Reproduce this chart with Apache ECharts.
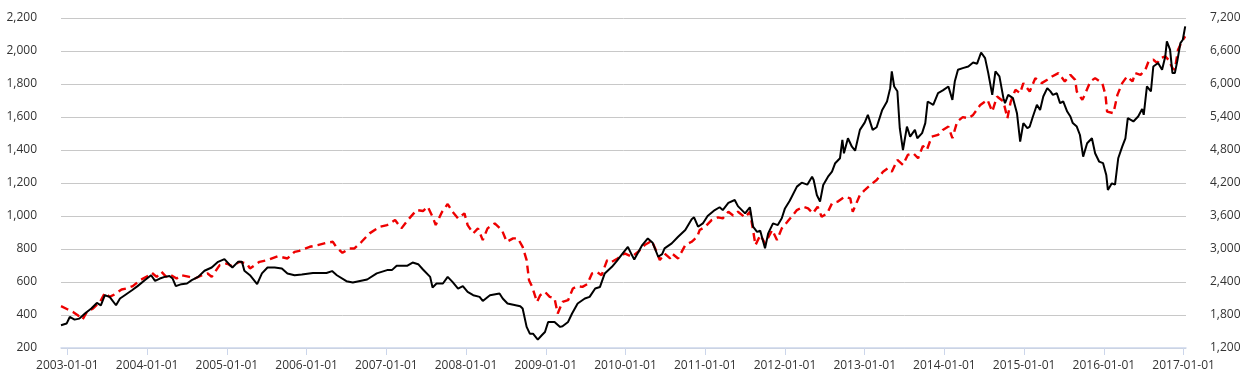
<!DOCTYPE html>
<html>
<head>
<meta charset="utf-8">
<script src="https://cdn.jsdelivr.net/npm/echarts@6/dist/echarts.min.js"></script>
<style>
  html, body { margin: 0; padding: 0; background: #fff; }
  #chart { width: 1252px; height: 383px; }
</style>
</head>
<body>
<div id="chart"></div>
<script>
// [decimal year, value]
const blackLine = [
  [2002.92, 338], [2002.99, 348], [2003.03, 388], [2003.09, 372], [2003.15, 378], [2003.22, 409], [2003.30, 439], [2003.37, 473],
  [2003.42, 459], [2003.47, 520], [2003.53, 510], [2003.61, 459], [2003.66, 500], [2003.72, 520], [2003.81, 550], [2003.88, 575], [2003.97, 611],
  [2004.05, 641], [2004.10, 607], [2004.16, 621], [2004.22, 631], [2004.28, 636], [2004.32, 621], [2004.36, 575], [2004.43, 587],
  [2004.50, 591], [2004.56, 611], [2004.64, 631], [2004.72, 668], [2004.81, 688], [2004.89, 722], [2004.97, 739],
  [2005.04, 702], [2005.07, 688], [2005.14, 722], [2005.19, 722], [2005.22, 668], [2005.29, 641], [2005.38, 587], [2005.44, 652],
  [2005.51, 688], [2005.60, 688], [2005.69, 682], [2005.76, 652], [2005.85, 641], [2005.94, 646],
  [2006.08, 655], [2006.25, 655], [2006.32, 666], [2006.38, 641], [2006.50, 605], [2006.58, 597], [2006.76, 615], [2006.88, 652],
  [2007.01, 672], [2007.07, 672], [2007.13, 698], [2007.26, 698], [2007.33, 718], [2007.40, 708], [2007.46, 676], [2007.55, 631],
  [2007.58, 567], [2007.63, 591], [2007.71, 591], [2007.77, 631], [2007.83, 601], [2007.90, 560], [2007.96, 575],
  [2008.02, 540], [2008.09, 520], [2008.17, 510], [2008.21, 485], [2008.30, 520], [2008.42, 530], [2008.46, 500], [2008.52, 470],
  [2008.68, 453], [2008.71, 439], [2008.76, 328], [2008.80, 287], [2008.84, 287], [2008.90, 251], [2008.95, 277], [2008.99, 297],
  [2009.03, 358], [2009.11, 358], [2009.18, 328], [2009.21, 332], [2009.28, 358], [2009.33, 409], [2009.40, 470], [2009.49, 500],
  [2009.55, 510], [2009.62, 561], [2009.68, 570], [2009.74, 652], [2009.83, 692], [2009.89, 726], [2009.97, 777],
  [2010.03, 813], [2010.08, 763], [2010.11, 737], [2010.21, 824], [2010.28, 864], [2010.34, 838], [2010.41, 753], [2010.46, 769],
  [2010.49, 804], [2010.58, 834], [2010.66, 874], [2010.75, 915], [2010.83, 980], [2010.86, 992], [2010.91, 935], [2010.97, 955],
  [2011.03, 1000], [2011.12, 1036], [2011.18, 1053], [2011.22, 1036], [2011.29, 1080], [2011.37, 1097], [2011.41, 1060], [2011.50, 1016],
  [2011.56, 1053], [2011.60, 935], [2011.65, 904], [2011.69, 911], [2011.75, 804], [2011.79, 895], [2011.85, 955], [2011.91, 945], [2011.96, 986],
  [2012.00, 1046], [2012.06, 1092], [2012.15, 1178], [2012.21, 1202], [2012.28, 1190], [2012.34, 1238], [2012.36, 1218], [2012.40, 1127],
  [2012.44, 1087], [2012.48, 1188], [2012.54, 1238], [2012.59, 1269], [2012.63, 1320], [2012.69, 1350], [2012.72, 1461], [2012.74, 1380],
  [2012.79, 1471], [2012.84, 1420], [2012.88, 1396], [2012.94, 1522],
  [2013.00, 1566], [2013.04, 1613], [2013.10, 1522], [2013.15, 1538], [2013.22, 1643], [2013.28, 1694], [2013.32, 1775], [2013.34, 1876],
  [2013.37, 1785], [2013.41, 1756], [2013.44, 1532], [2013.48, 1400], [2013.53, 1542], [2013.57, 1481], [2013.63, 1522], [2013.66, 1471],
  [2013.72, 1502], [2013.76, 1563], [2013.79, 1694], [2013.86, 1674], [2013.92, 1745], [2013.98, 1761],
  [2014.05, 1785], [2014.10, 1704], [2014.13, 1815], [2014.17, 1886], [2014.23, 1896], [2014.30, 1906], [2014.36, 1930], [2014.41, 1923],
  [2014.46, 1991], [2014.51, 1957], [2014.55, 1866], [2014.60, 1734], [2014.64, 1876], [2014.69, 1846], [2014.74, 1714], [2014.76, 1684],
  [2014.80, 1734], [2014.86, 1714], [2014.91, 1623], [2014.95, 1451], [2014.99, 1563],
  [2015.04, 1532], [2015.07, 1542], [2015.11, 1603], [2015.16, 1674], [2015.20, 1643], [2015.24, 1724], [2015.29, 1775], [2015.33, 1755],
  [2015.36, 1734], [2015.41, 1744], [2015.45, 1684], [2015.49, 1694], [2015.54, 1633], [2015.58, 1603], [2015.61, 1563], [2015.66, 1542],
  [2015.70, 1491], [2015.74, 1360], [2015.79, 1441], [2015.85, 1471], [2015.89, 1380], [2015.94, 1330], [2015.99, 1320],
  [2016.03, 1249], [2016.05, 1158], [2016.10, 1198], [2016.14, 1190], [2016.18, 1350], [2016.23, 1420], [2016.27, 1471], [2016.30, 1593],
  [2016.37, 1573], [2016.43, 1603], [2016.48, 1648], [2016.50, 1613], [2016.54, 1785], [2016.59, 1755], [2016.62, 1906], [2016.68, 1927],
  [2016.73, 1886], [2016.77, 1967], [2016.79, 2058], [2016.83, 2008], [2016.86, 1866], [2016.89, 1866], [2016.92, 1937], [2016.96, 2048],
  [2016.99, 2068], [2017.02, 2149]
];

const redLine = [
  [2002.92, 1960], [2003.00, 1905], [2003.07, 1856], [2003.13, 1796], [2003.19, 1717], [2003.25, 1868], [2003.32, 1917], [2003.41, 2038],
  [2003.47, 2202], [2003.53, 2129], [2003.59, 2173], [2003.68, 2264], [2003.74, 2282], [2003.82, 2324], [2003.91, 2433], [2003.99, 2493],
  [2004.06, 2566], [2004.12, 2493], [2004.18, 2584], [2004.24, 2493], [2004.28, 2542], [2004.37, 2464], [2004.43, 2524], [2004.53, 2493],
  [2004.60, 2464], [2004.69, 2524], [2004.76, 2555], [2004.81, 2493], [2004.91, 2706],
  [2005.00, 2737], [2005.06, 2688], [2005.16, 2767], [2005.25, 2737], [2005.29, 2646], [2005.35, 2706], [2005.41, 2767], [2005.51, 2798],
  [2005.64, 2870], [2005.76, 2828], [2005.85, 2949], [2005.91, 2967],
  [2006.04, 3040], [2006.14, 3070], [2006.25, 3113], [2006.33, 3131], [2006.37, 3040], [2006.45, 2930], [2006.54, 3010], [2006.60, 3010],
  [2006.69, 3131], [2006.79, 3284], [2006.92, 3404],
  [2007.01, 3435], [2007.11, 3526], [2007.19, 3375], [2007.27, 3526], [2007.38, 3708], [2007.46, 3690], [2007.52, 3768], [2007.58, 3586],
  [2007.62, 3435], [2007.70, 3677], [2007.77, 3817], [2007.83, 3677], [2007.90, 3557], [2007.98, 3648],
  [2008.02, 3435], [2008.09, 3284], [2008.15, 3375], [2008.21, 3162], [2008.27, 3375], [2008.36, 3466], [2008.45, 3344], [2008.51, 3131],
  [2008.59, 3193], [2008.65, 3193], [2008.71, 3040], [2008.76, 2798], [2008.79, 2433], [2008.83, 2311], [2008.89, 2038], [2008.93, 2160],
  [2008.99, 2220],
  [2009.05, 2130], [2009.11, 2100], [2009.15, 1827], [2009.21, 2038], [2009.28, 2069], [2009.34, 2282], [2009.40, 2324], [2009.46, 2311],
  [2009.52, 2360], [2009.58, 2555], [2009.64, 2584], [2009.70, 2524], [2009.77, 2798], [2009.83, 2767], [2009.90, 2828], [2009.99, 2919],
  [2010.08, 2858], [2010.16, 2949], [2010.24, 3071], [2010.33, 3149], [2010.39, 2949], [2010.43, 2798], [2010.49, 2919], [2010.56, 2828],
  [2010.59, 2910], [2010.66, 2828], [2010.75, 3071], [2010.83, 3131], [2010.90, 3222], [2010.93, 3344],
  [2011.00, 3404], [2011.08, 3526], [2011.16, 3575], [2011.22, 3557], [2011.29, 3677], [2011.35, 3610], [2011.41, 3677], [2011.50, 3575],
  [2011.56, 3677], [2011.60, 3344], [2011.63, 3071], [2011.69, 3253], [2011.75, 3101], [2011.84, 3344], [2011.90, 3162], [2011.96, 3375],
  [2012.03, 3495], [2012.09, 3600], [2012.15, 3708], [2012.23, 3768], [2012.29, 3738], [2012.35, 3648], [2012.41, 3768], [2012.46, 3586],
  [2012.53, 3648], [2012.59, 3830], [2012.66, 3860], [2012.75, 3951], [2012.82, 3921], [2012.85, 3677], [2012.94, 3981],
  [2013.00, 4072], [2013.07, 4163], [2013.15, 4254], [2013.23, 4406], [2013.29, 4467], [2013.34, 4406], [2013.41, 4619], [2013.48, 4528],
  [2013.54, 4710], [2013.61, 4740], [2013.67, 4650], [2013.73, 4874], [2013.78, 4801], [2013.84, 5043], [2013.92, 5074], [2013.98, 5165],
  [2014.05, 5226], [2014.10, 5014], [2014.16, 5317], [2014.23, 5397], [2014.30, 5378], [2014.36, 5438], [2014.45, 5620], [2014.54, 5712],
  [2014.60, 5499], [2014.66, 5772], [2014.74, 5681], [2014.79, 5378], [2014.83, 5670], [2014.89, 5894], [2014.95, 5833], [2014.99, 6016],
  [2015.07, 5863], [2015.14, 6107], [2015.22, 6016], [2015.29, 6076], [2015.35, 6137], [2015.43, 6198], [2015.51, 6046], [2015.58, 6167],
  [2015.64, 6076], [2015.66, 5863], [2015.73, 5712], [2015.76, 5803], [2015.83, 6046], [2015.89, 6107], [2015.98, 6016],
  [2016.02, 5803], [2016.04, 5499], [2016.12, 5469], [2016.17, 5803], [2016.23, 6016], [2016.29, 6137], [2016.36, 6046], [2016.39, 6198],
  [2016.46, 6167], [2016.52, 6258], [2016.56, 6410], [2016.62, 6441], [2016.67, 6380], [2016.71, 6471], [2016.77, 6501], [2016.81, 6441],
  [2016.86, 6289], [2016.89, 6258], [2016.93, 6623], [2016.98, 6774], [2017.02, 6865]
];

const tickYears = [2003, 2004, 2005, 2006, 2007, 2008, 2009, 2010, 2011, 2012, 2013, 2014, 2015, 2016, 2017];

const labelFont = { color: '#333', fontSize: 12, fontFamily: 'Open Sans' };

const chart = echarts.init(document.getElementById('chart'));

chart.setOption({
  animation: false,
  backgroundColor: '#fff',
  grid: { left: 61, right: 66, top: 18, bottom: 35 },
  xAxis: {
    type: 'value',
    min: 2002.92,
    max: 2017.03,
    splitLine: { show: false },
    axisLine: { show: true, lineStyle: { color: '#ccd6eb', width: 1.5 } },
    axisTick: {
      show: true,
      length: 7,
      customValues: tickYears,
      lineStyle: { color: '#ccd6eb' }
    },
    axisLabel: {
      ...labelFont,
      margin: 12,
      customValues: tickYears,
      formatter: v => Math.round(v) + '-01-01'
    }
  },
  yAxis: [
    {
      type: 'value',
      min: 200,
      max: 2200,
      interval: 200,
      axisLine: { show: false },
      axisTick: { show: false },
      splitLine: { lineStyle: { color: '#c8c8c8', width: 1 } },
      axisLabel: { ...labelFont, margin: 24, formatter: v => echarts.format.addCommas(v) }
    },
    {
      type: 'value',
      min: 1200,
      max: 7200,
      interval: 600,
      axisLine: { show: false },
      axisTick: { show: false },
      splitLine: { show: false },
      axisLabel: { ...labelFont, margin: 24, formatter: v => echarts.format.addCommas(v) }
    }
  ],
  series: [
    {
      type: 'line',
      yAxisIndex: 1,
      data: redLine,
      showSymbol: false,
      lineStyle: { color: '#ee0000', width: 2.4, type: [8, 5] },
      z: 2
    },
    {
      type: 'line',
      yAxisIndex: 0,
      data: blackLine,
      showSymbol: false,
      lineStyle: { color: '#000', width: 2 },
      z: 3
    }
  ]
});
</script>
</body>
</html>
